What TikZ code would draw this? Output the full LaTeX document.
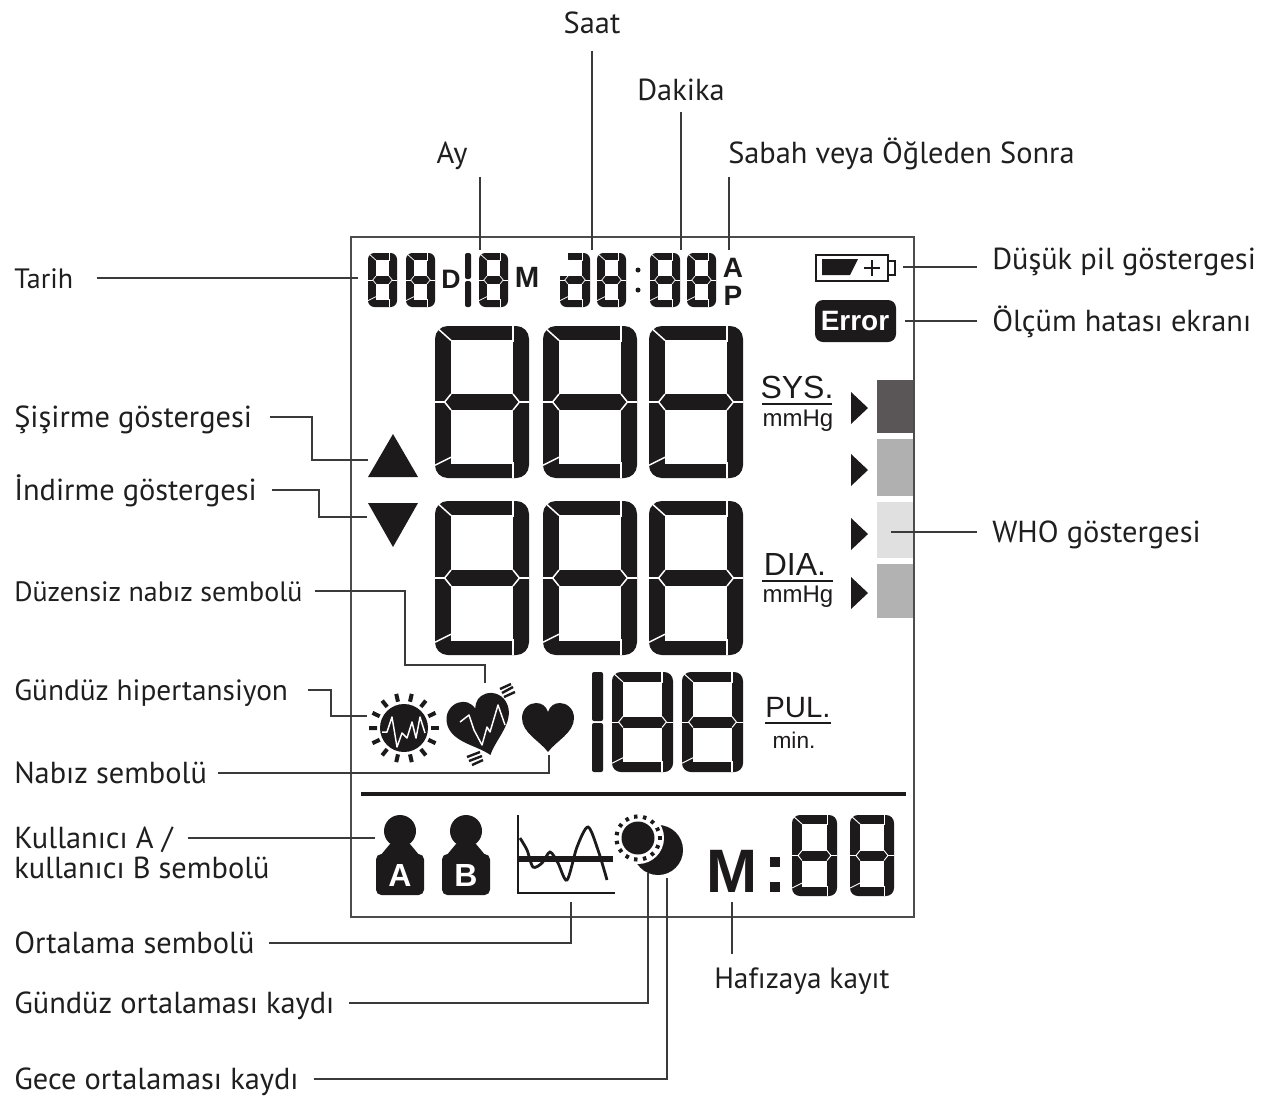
\documentclass[tikz,border=0pt]{standalone}
\usepackage{fontspec}
\usetikzlibrary{calc}
\setmainfont{PT Sans}
\newfontfamily\lcdfont{Liberation Sans}
\definecolor{lcdblack}{HTML}{1C1A1B}
\definecolor{wiregray}{HTML}{3A3A3A}
\definecolor{whodark}{HTML}{5A5556}
\tikzset{
  lbl/.style={anchor=west, inner sep=0pt, text height=15pt, text depth=0pt, text=black!88,
    font=\fontsize{22.8}{24}\selectfont},
  toplbl/.style={lbl, anchor=center},
  wire/.style={draw=wiregray, line width=1.5pt, shorten <=11pt},
  lcdtxt/.style={inner sep=0pt, text=lcdblack},
  frameline/.style={draw=black!70, line width=1.8pt}
}
% one segment digit: x, y, width, height, stroke
\newcommand{\segdigit}[5]{%
  \begin{scope}[shift={(#1,#2)}]
    \pgfmathsetmacro{\midy}{#4/2}
    \pgfmathsetmacro{\halft}{#5/2}
    \pgfmathsetmacro{\segr}{#5*0.6}
    \pgfmathsetmacro{\segcut}{#5*0.07}
    \fill[lcdblack, rounded corners=\segr pt] (0,0) rectangle (#3,#4);
    \fill[white] (#5,#5*0.9) rectangle (#3-#5,\midy-\halft);
    \fill[white] (#5,\midy+\halft) rectangle (#3-#5,#4-#5*0.9);
    \begin{scope}[draw=white, line width=\segcut pt]
      % cuts between the segments
      \draw (#3-#5,0) -- (#3-#5,#5);
      \draw (#3-#5,#4-#5) -- (#3-#5,#4);
      \draw (0,0) -- (#5,#5*0.9);
      \draw (0,#4-#5*0.8) -- (#5,#4-#5*1.3);
      \draw (#5,\midy-\halft) -- (#5*0.6,\midy) -- (#5,\midy+\halft);
      \draw (0,\midy) -- (#5*0.6,\midy);
      \draw (#3-#5,\midy-\halft) -- (#3-#5*0.6,\midy) -- (#3-#5,\midy+\halft);
      \draw (#3,\midy) -- (#3-#5*0.6,\midy);
    \end{scope}
  \end{scope}}
% digit one: x, y, width, height
\newcommand{\segone}[4]{%
  \fill[lcdblack, rounded corners=1.5pt] (#1,#2) rectangle (#1+#3,#2+#4/2-1);
  \fill[lcdblack, rounded corners=1.5pt] (#1,#2+#4/2+1) rectangle (#1+#3,#2+#4);}
% heart, tip down, about 52 wide
\newcommand{\heartpath}{(0,25) .. controls (-8,14) and (-26,6) .. (-26,-9)
  .. controls (-26,-19) and (-18,-24) .. (-12,-24) .. controls (-6,-24) and (-2,-21) .. (0,-15)
  .. controls (2,-21) and (6,-24) .. (12,-24) .. controls (18,-24) and (26,-19) .. (26,-9)
  .. controls (26,6) and (8,14) .. (0,25) -- cycle}
\begin{document}
\begin{tikzpicture}[x=0.75pt,y=-0.75pt]
  \useasboundingbox (0,0) rectangle (1262,1101);
  % frame of the display
  \draw[frameline] (351,237) rectangle (914,917);
  \draw[lcdblack, line width=3pt] (361,794) -- (906,794);

  % top row
  \segdigit{368}{253}{29}{54}{8}
  \segdigit{406}{253}{29}{54}{8}
  \node[lcdtxt, font=\lcdfont\bfseries\fontsize{20}{20}\selectfont] (txtD) at (451,279) {D};
  \segone{465}{253}{6}{54}
  \segdigit{479}{253}{29}{54}{8}
  \node[lcdtxt, font=\lcdfont\bfseries\fontsize{22}{24}\selectfont] (txtM) at (527,277) {M};
  \segdigit{560}{253}{30}{54}{8}
  \fill[white] (559,252) rectangle (568,276);
  \segdigit{597}{253}{29}{54}{8}
  \fill[lcdblack] (638,270) circle (2.5);
  \fill[lcdblack] (638,290) circle (2.5);
  \segdigit{650}{253}{30}{54}{8}
  \segdigit{687}{253}{29}{54}{8}
  \node[lcdtxt, font=\lcdfont\bfseries\fontsize{21}{22}\selectfont] (txtA) at (733,268) {A};
  \node[lcdtxt, font=\lcdfont\bfseries\fontsize{21}{22}\selectfont] (txtP) at (733,296) {P};

  % large digits
  \foreach \x in {435,543,649} {
    \segdigit{\x}{326}{94}{152}{16}
    \segdigit{\x}{501}{94}{154}{16}
  }
  \fill[lcdblack] (368,477) -- (393,434) -- (418,477) -- cycle;
  \fill[lcdblack] (368,503) -- (418,503) -- (393,547) -- cycle;

  % pulse digits
  \segone{592}{672}{11}{100}
  \segdigit{612}{672}{61}{100}{11}
  \segdigit{682}{672}{61}{100}{11}

  % units
  \node[lcdtxt, font=\lcdfont\fontsize{24}{26}\selectfont] (txtSys) at (797,387) {SYS.};
  \draw[lcdblack, line width=1.5pt] (762,404) -- (832,404);
  \node[lcdtxt, font=\lcdfont\fontsize{18}{18}\selectfont] (txtSysU) at (798,421) {mmHg};
  \node[lcdtxt, font=\lcdfont\fontsize{24}{26}\selectfont] (txtDia) at (795,564) {DIA.};
  \draw[lcdblack, line width=1.5pt] (762,581) -- (833,581);
  \node[lcdtxt, font=\lcdfont\fontsize{18}{18}\selectfont] (txtDiaU) at (798,597) {mmHg};
  \node[lcdtxt, font=\lcdfont\fontsize{22}{24}\selectfont] (txtPul) at (798,708) {PUL.};
  \draw[lcdblack, line width=1.5pt] (765,723) -- (831,723);
  \node[lcdtxt, font=\lcdfont\fontsize{17}{18}\selectfont] (txtMin) at (794,740) {min.};

  % WHO scale
  \fill[whodark] (877,380) rectangle (913,433);
  \fill[black!31] (877,439) rectangle (913,496);
  \fill[black!12] (877,502) rectangle (913,558);
  \fill[black!30] (877,564) rectangle (913,618);
  \foreach \y in {408,470,534,593} {
    \fill[lcdblack] (851,\y-16) -- (868,\y) -- (851,\y+16) -- cycle;
  }

  % battery and error
  \draw[lcdblack, line width=1.7pt] (816,255) rectangle (888,281);
  \draw[lcdblack, line width=1.7pt] (888,261) -- (895,261) -- (895,275) -- (888,275);
  \fill[lcdblack] (822,259) -- (858,259) -- (850,275) -- (822,275) -- cycle;
  \draw[lcdblack, line width=1.6pt] (864,268) -- (880,268) (872,260) -- (872,276);
  \fill[lcdblack, rounded corners=6pt] (815,300) rectangle (896,342);
  \node[inner sep=0pt, text=white, font=\lcdfont\bfseries\fontsize{21}{22}\selectfont] (txtError) at (855,321) {Error};

  % sun with wave
  \fill[lcdblack] (404,728) circle (24);
  \foreach \a in {0,25.714,...,350} {
    \draw[lcdblack, line width=3pt] ($(404,728)+(\a:27)$) -- ($(404,728)+(\a:35)$);
  }
  \draw[white, line width=1.1pt, line join=round] (382,732) -- (387,732) -- (392,717) -- (397,747)
    -- (402,733) -- (407,738) -- (412,722) -- (416,738) -- (420,717) -- (425,733);

  % heart with wave
  \begin{scope}[shift={(481,726)}, rotate=18, scale=1.22]
    \fill[lcdblack] \heartpath;
  \end{scope}
  \draw[white, line width=1.1pt, line join=round] (460,722) -- (469,715) -- (474,730) -- (482,745)
    -- (487,727) -- (490,732) -- (498,705) -- (505,725);
  \foreach \a/\b/\c/\d in {500/689/511/684, 502/693/513/687, 504/697/515/692,
                           467/757/480/752, 469/761/482/756, 472/765/483/760} {
    \draw[lcdblack, line width=1.8pt] (\a,\b) -- (\c,\d);
  }

  % pulse heart
  \begin{scope}[shift={(548,727)}, scale=1.0]
    \fill[lcdblack] \heartpath;
  \end{scope}

  % users
  \foreach \x/\t in {400/A,466/B} {
    \fill[lcdblack] (\x,831) circle (16);
    \fill[lcdblack] (\x-10,844) -- (\x+10,844) -- (\x+20,856) -- (\x-20,856) -- cycle;
    \fill[lcdblack, rounded corners=4pt] (\x-24,854) rectangle (\x+24,895);
    \node[inner sep=0pt, text=white, font=\lcdfont\bfseries\fontsize{24}{26}\selectfont] (user\t) at (\x,875) {\t};
  }

  % moon and sun
  \fill[lcdblack] (658,850) circle (25);
  \fill[white] (638,838) circle (26);
  \fill[lcdblack] (638,838) circle (16.5);
  \foreach \a in {0,24,...,340} {
    \draw[lcdblack, line width=2.6pt] ($(638,838)+(\a:19.5)$) -- ($(638,838)+(\a:23.5)$);
  }

  % average graph
  \draw[lcdblack, line width=2pt] (518,815) -- (518,893) -- (615,893);
  \draw[lcdblack, line width=4.5pt] (518,859) -- (613,859);
  \draw[lcdblack, line width=2.1pt] plot[smooth] coordinates {(520,838) (527,850) (533,867) (542,863)
    (550,852) (558,863) (567,880) (577,847) (588,827) (598,850) (607,880)};

  % memory
  \node[lcdtxt, font=\lcdfont\bfseries\fontsize{46}{48}\selectfont] (txtMem) at (732,871) {M};
  \fill[lcdblack] (770,857) rectangle (780,867);
  \fill[lcdblack] (770,882) rectangle (780,892);
  \segdigit{792}{815}{45}{81}{10}
  \segdigit{850}{815}{44}{81}{10}

  % end points of the connectors
  \coordinate (tipSaat) at (592,250);
  \coordinate (tipDakika) at (681,250);
  \coordinate (tipAy) at (480,250);
  \coordinate (tipSabah) at (729,250);
  \coordinate (tipTarih) at (358,278);
  \coordinate (tipPil) at (903,267);
  \coordinate (tipError) at (905,321);
  \coordinate (tipWho) at (891,532);
  \coordinate (bendSis) at (312,460);
  \coordinate (tipSis) at (368,460);
  \coordinate (bendInd) at (319,517);
  \coordinate (tipInd) at (367,517);
  \coordinate (bendDuz) at (405,665);
  \coordinate (tipDuz) at (485,683);
  \coordinate (bendHip) at (331,716);
  \coordinate (tipHip) at (367,716);
  \coordinate (tipNabiz) at (549,755);
  \coordinate (tipKul) at (375,838);
  \coordinate (tipOrt) at (571,902);
  \coordinate (tipGun) at (648,873);
  \coordinate (tipGece) at (667,878);
  \coordinate (tipHaf) at (732,902);

  % labels
  \node[toplbl] (lblSaat) at (592,23) {Saat};
  \node[toplbl] (lblDakika) at (681,90) {Dakika};
  \node[toplbl] (lblAy) at (452,153) {Ay};
  \node[lbl] (lblSabah) at (728,153) {Sabah veya Öğleden Sonra};
  \node[lbl, font=\fontsize{21}{24}\selectfont] (lblTarih) at (14,278) {Tarih};
  \node[lbl] (lblPil) at (992,259) {Düşük pil göstergesi};
  \node[lbl] (lblError) at (992,321) {Ölçüm hatası ekranı};
  \node[lbl] (lblSis) at (14,417) {Şişirme göstergesi};
  \node[lbl] (lblInd) at (14,490) {İndirme göstergesi};
  \node[lbl] (lblWho) at (992,532) {WHO göstergesi};
  \node[lbl, font=\fontsize{21}{24}\selectfont] (lblDuz) at (14,591) {Düzensiz nabız sembolü};
  \node[lbl, font=\fontsize{22}{24}\selectfont] (lblHip) at (14,690) {Gündüz hipertansiyon};
  \node[lbl] (lblNabiz) at (14,773) {Nabız sembolü};
  \node[lbl] (lblKulA) at (14,838) {Kullanıcı A /};
  \node[lbl] (lblKulB) at (14,868) {kullanıcı B sembolü};
  \node[lbl] (lblOrt) at (14,943) {Ortalama sembolü};
  \node[lbl] (lblGun) at (14,1003) {Gündüz ortalaması kaydı};
  \node[lbl] (lblGece) at (14,1079) {Gece ortalaması kaydı};
  \node[lbl, font=\fontsize{22}{24}\selectfont] (lblHaf) at (714,978) {Hafızaya kayıt};

  % connectors
  \draw[wire, shorten <=13pt] (lblSaat.south) -- (tipSaat);
  \draw[wire, shorten <=9pt] (lblDakika.south) -- (tipDakika);
  \draw[wire, shorten <=10pt] (lblAy.south -| tipAy) -- (tipAy);
  \draw[wire, shorten <=10pt] (lblSabah.south -| tipSabah) -- (tipSabah);
  \draw[wire, shorten <=18pt] (lblTarih.east) -- (tipTarih);
  \draw[wire] (lblPil.west |- tipPil) -- (tipPil);
  \draw[wire] (lblError.west) -- (tipError);
  \draw[wire] (lblWho.west) -- (tipWho);
  \draw[wire, shorten <=13pt] (lblSis.east) -| (bendSis) -- (tipSis);
  \draw[wire] (lblInd.east) -| (bendInd) -- (tipInd);
  \draw[wire, shorten <=9pt] (lblDuz.east) -| (bendDuz) -| (tipDuz);
  \draw[wire, shorten <=15pt] (lblHip.east) -| (bendHip) -- (tipHip);
  \draw[wire, shorten <=8pt] (lblNabiz.east) -| (tipNabiz);
  \draw[wire] (lblKulA.east) -- (tipKul);
  \draw[wire] (lblOrt.east) -| (tipOrt);
  \draw[wire] (lblGun.east) -| (tipGun);
  \draw[wire] (lblGece.east) -| (tipGece);
  \draw[wire, shorten <=10pt] (lblHaf.north -| tipHaf) -- (tipHaf);
\end{tikzpicture}
\end{document}
